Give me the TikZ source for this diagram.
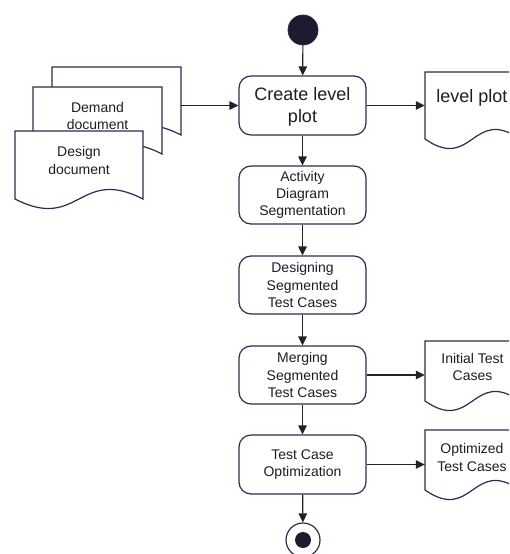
\documentclass[tikz,border=0pt]{standalone}
\usepackage{fontspec}
\setmainfont{Liberation Sans}
\usetikzlibrary{arrows.meta}
\definecolor{navy}{HTML}{2A2D52}
\definecolor{arrowc}{HTML}{222222}
\definecolor{dotc}{HTML}{1D1B2E}
\definecolor{txt}{HTML}{1E1E1E}
\newcommand{\docnode}[5]{% name, x, y, w, h (pixel coords, y down)
  \draw[docline] (#2,#3+#5) -- (#2,#3) -- (#2+#4,#3) -- (#2+#4,#3+#5)
    .. controls (#2+0.5*#4,#3+#5-33) and (#2+0.5*#4,#3+#5+33) .. (#2,#3+#5) -- cycle;
  \node[inner sep=0pt, minimum width=#4pt, minimum height=#5pt] (#1) at (#2+0.5*#4,#3+0.5*#5) {};
}
\begin{document}
\begin{tikzpicture}[x=1pt,y=-1pt,
  docline/.style={draw=navy, line width=1.2pt, fill=white, line join=miter},
  actbox/.style={draw=navy, line width=1.2pt, rounded corners=12pt, fill=white,
    minimum width=127pt, inner sep=2pt, align=center},
  small/.style={font=\fontsize{14}{17.3}\selectfont, text=txt, align=center, inner sep=0pt},
  big/.style={font=\fontsize{18}{22.5}\selectfont, text=txt, align=center, inner sep=0pt},
  flow/.style={draw=arrowc, line width=1.2pt, -{Triangle[length=9pt,width=8.5pt]}}
]
\useasboundingbox (0,0) rectangle (509,554);
\clip (0,0) rectangle (509,554);

% start node
\node[circle, fill=dotc, draw=navy, line width=0.8pt, minimum size=30pt, inner sep=0pt] (start) at (303,30) {};

% activity boxes
\node[actbox, minimum height=59pt] (create) at (302.5,105.5) {};
\node[big] (tcreate) at (302.5,107) {Create level\\plot};
\node[actbox, minimum height=58pt, small] (seg) at (302.5,195) {Activity\\Diagram\\Segmentation};
\node[actbox, minimum height=58pt, small] (design) at (302.5,285) {Designing\\Segmented\\Test Cases};
\node[actbox, minimum height=58pt, small] (merge) at (302.5,375) {Merging\\Segmented\\Test Cases};
\node[actbox, minimum height=59pt, small] (opt) at (302.5,464.5) {Test Case\\Optimization};

% end node
\node[circle, draw=navy, line width=1.2pt, fill=white, minimum size=34pt, inner sep=0pt] (final) at (303,540) {};
\node[circle, fill=dotc, minimum size=16pt, inner sep=0pt] (finaldot) at (final.center) {};

% left documents
\docnode{backdoc}{52}{67}{129}{68}
\docnode{demanddoc}{33}{87}{129}{67}
\node[small] (tdemand) at (97.5,116) {Demand\\document};
\docnode{designdoc}{15}{131}{128}{68}
\node[small] (tdesign) at (79,160.5) {Design\\document};

% right documents
\docnode{lvldoc}{425}{72}{95}{67}
\node[big] (tlvl) at (472,98) {level plot};
\docnode{initdoc}{425}{341}{95}{60}
\node[small] (tinit) at (472.5,367) {Initial Test\\Cases};
\docnode{optdoc}{425}{430}{95}{60}
\node[small] (topt) at (472,457.5) {Optimized\\Test Cases};

% connectors
\draw[flow] (start) -- (create);
\draw[flow] (create) -- (seg);
\draw[flow] (seg) -- (design);
\draw[flow] (design) -- (merge);
\draw[flow] (merge) -- (opt);
\draw[flow] (opt) -- (final);
\draw[flow] (backdoc.east |- create.west) -- (create.west);
\draw[flow] (create.east) -- (lvldoc.west |- create.east);
\draw[flow] (merge.east) -- (initdoc.west |- merge.east);
\draw[flow] (opt.east) -- (optdoc.west |- opt.east);
\end{tikzpicture}
\end{document}
